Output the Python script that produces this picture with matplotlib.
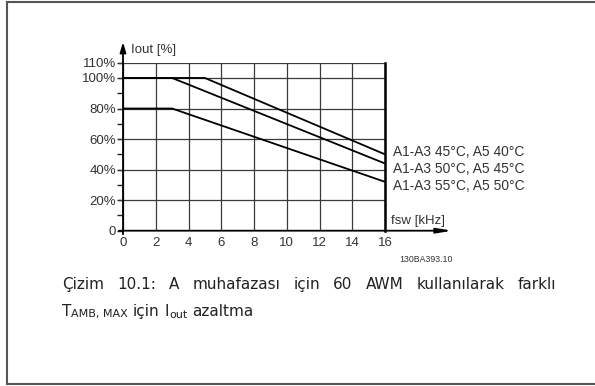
import matplotlib
matplotlib.use("Agg")
import matplotlib.pyplot as plt
from matplotlib.lines import Line2D

# Derating curves: output current vs. switching frequency
fsw_45 = [0, 5, 16]
iout_45 = [100, 100, 50]
fsw_50 = [0, 3, 16]
iout_50 = [100, 100, 44]
fsw_55 = [0, 3, 16]
iout_55 = [80, 80, 32]

curve_labels = ["A1-A3 45°C, A5 40°C", "A1-A3 50°C, A5 45°C", "A1-A3 55°C, A5 50°C"]
x_ticks = [0, 2, 4, 6, 8, 10, 12, 14, 16]
y_ticks = [0, 20, 40, 60, 80, 100, 110]
y_tick_labels = ["0", "20%", "40%", "60%", "80%", "100%", "110%"]
y_minor = [10, 30, 50, 70, 90]

W, H = 595, 386
fig = plt.figure(figsize=(W / 100, H / 100), dpi=100)
fig.patch.set_facecolor("white")

def fx(px):
    return px / W

def fy(py):
    return 1 - py / H

# page frame (left, top, bottom)
frame_kw = dict(color="#555555", linewidth=1.5, transform=fig.transFigure)
fig.add_artist(Line2D([fx(7), fx(W)], [fy(1.5), fy(1.5)], **frame_kw))
fig.add_artist(Line2D([fx(7), fx(7)], [fy(1.5), fy(384)], **frame_kw))
fig.add_artist(Line2D([fx(7), fx(W)], [fy(384), fy(384)], **frame_kw))

ax = fig.add_axes([fx(123), fy(230.7), fx(385) - fx(123), fy(62.7) - fy(230.7)])
ax.set_xlim(0, 16)
ax.set_ylim(0, 110)

font = "Liberation Sans"
tick_color = "#333333"
fs = 9.5

ax.set_xticks(x_ticks)
ax.set_xticklabels([str(v) for v in x_ticks], fontfamily=font, fontsize=fs, color=tick_color)
ax.set_yticks(y_ticks)
ax.set_yticklabels(y_tick_labels, fontfamily=font, fontsize=fs, color=tick_color)
ax.set_yticks(y_minor, minor=True)
ax.tick_params(axis="x", length=0, pad=4.5)
ax.tick_params(axis="y", which="major", length=4, width=1.0, pad=1, color="#222222")
ax.tick_params(axis="y", which="minor", length=4, width=1.0, color="#222222")

ax.grid(True, which="major", color="#3a3a3a", linewidth=0.9)
ax.set_axisbelow(True)

for side in ("top", "bottom"):
    ax.spines[side].set_visible(False)
ax.spines["left"].set_linewidth(1.3)
ax.spines["right"].set_linewidth(1.8)
ax.spines["left"].set_color("black")
ax.spines["right"].set_color("black")

# extend horizontal grid lines left to the tick stubs
for yv in y_ticks[1:]:
    ax.plot([-0.25, 0], [yv, yv], color="#3a3a3a", linewidth=0.9, clip_on=False)

# y axis stub below origin and axis arrows
ax.plot([0, 0], [-2.2, 0], color="black", linewidth=1.3, clip_on=False)
ax.annotate("", xy=(0, 123.5), xytext=(0, 109.5), annotation_clip=False,
            arrowprops=dict(arrowstyle="-|>,head_length=0.6,head_width=0.18",
                            color="black", linewidth=1.3, shrinkA=0, shrinkB=0))
ax.annotate("", xy=(20.1, 0), xytext=(-0.25, 0), annotation_clip=False,
            arrowprops=dict(arrowstyle="-|>,head_length=0.9,head_width=0.15",
                            color="black", linewidth=1.3, shrinkA=0, shrinkB=0))

# curves
for xs, ys in ((fsw_45, iout_45), (fsw_50, iout_50), (fsw_55, iout_55)):
    ax.plot(xs, ys, color="black", linewidth=1.3, solid_capstyle="butt", clip_on=False)

# curve labels
for lbl, yv in zip(curve_labels, (51.5, 40.4, 29.3)):
    ax.text(16.49, yv, lbl, fontfamily=font, fontsize=9.9, color=tick_color,
            ha="left", va="center")

ax.text(0.5, 118.3, "Iout [%]", fontfamily=font, fontsize=fs, color=tick_color,
        ha="left", va="center")
ax.text(16.37, 6.2, "fsw [kHz]", fontfamily=font, fontsize=fs, color=tick_color,
        ha="left", va="center")
fig.text(fx(426), fy(259), "130BA393.10", fontfamily=font, fontsize=6.3,
         color="#333333", ha="center", va="center")

# caption, justified first line
cap_font = dict(fontfamily="DejaVu Sans", fontsize=11.0, color="#222222")
renderer = fig.canvas.get_renderer()

def width_px(s, **kw):
    t = fig.text(0, 0, s, **kw)
    w = t.get_window_extent(renderer).width
    t.remove()
    return w

words = "Çizim 10.1: A muhafazası için 60 AWM kullanılarak farklı".split()
x0, x1, base1 = 62, 556, 289
widths = [width_px(w, **cap_font) for w in words]
gap = (x1 - x0 - sum(widths)) / (len(words) - 1)
xp = x0
for w, wd in zip(words, widths):
    fig.text(fx(xp), fy(base1), w, ha="left", va="baseline", **cap_font)
    xp += wd + gap

# caption second line with subscripts
sub_font = dict(cap_font, fontsize=8.0)
space = width_px("a a", **cap_font) - width_px("aa", **cap_font)
base2 = 316
pieces = [("T", cap_font, 0), ("AMB, MAX", sub_font, 1.5), (None, None, 0),
          ("için", cap_font, 0), (None, None, 0), ("I", cap_font, 0),
          ("out", sub_font, 1.5), (None, None, 0), ("azaltma", cap_font, 0)]
xp = x0
for s, kw, drop in pieces:
    if s is None:
        xp += space
        continue
    fig.text(fx(xp), fy(base2 + drop), s, ha="left", va="baseline", **kw)
    xp += width_px(s, **kw)

fig.savefig("out.png", dpi=100, facecolor="white")
